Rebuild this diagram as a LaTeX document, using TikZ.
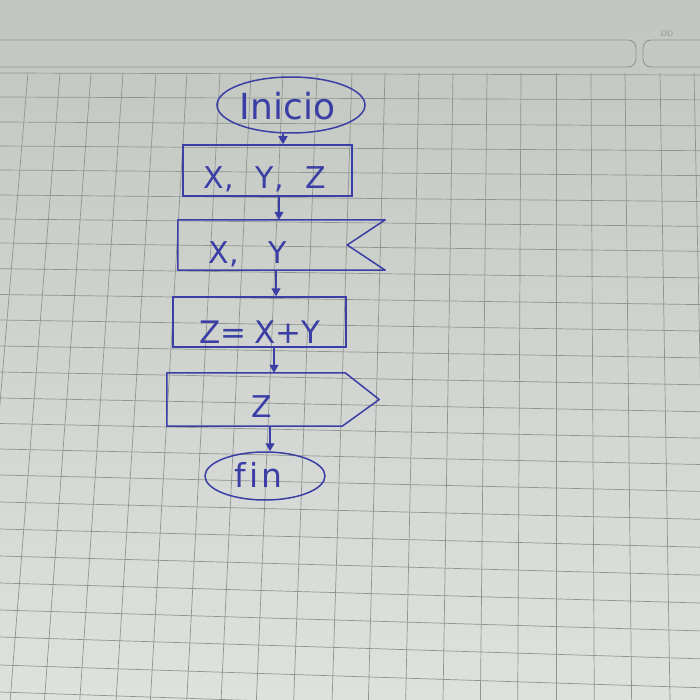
\documentclass[tikz,border=0pt]{standalone}
\usepackage{fontspec}
\usetikzlibrary{shapes.geometric,arrows.meta}
\newfontfamily\hand{DejaVu Sans}
\definecolor{ink}{RGB}{58,62,165}
\definecolor{gridc}{RGB}{145,149,145}
\definecolor{paperT}{RGB}{194,198,192}
\definecolor{paperB}{RGB}{222,225,222}
\tikzset{
  inkline/.style={draw=ink, line width=1.5pt, line join=round},
  term/.style={ellipse, draw=ink, line width=1.5pt, inner sep=0pt},
  proc/.style={rectangle, draw=ink, line width=1.5pt, inner sep=0pt},
  shapebox/.style={rectangle, inner sep=0pt},
  txt/.style={text=ink, inner sep=0pt, text height=0pt, text depth=0pt},
  arr/.style={draw=ink, line width=1.3pt, -{Triangle[width=9pt,length=8pt]}},
  gridline/.style={draw=gridc, line width=0.7pt},
  stripline/.style={draw=gridc, line width=0.9pt, rounded corners=8pt}
}
\begin{document}
\begin{tikzpicture}[x=1pt,y=-1pt]
\useasboundingbox (0,0) rectangle (700,700);
\shade[top color=paperT, bottom color=paperB] (0,0) rectangle (700,700);
% notebook header strip
\draw[stripline] (-10,40) rectangle (636,67);
\draw[stripline] (643,40) rectangle (712,67);
\node[font=\sffamily\fontsize{8}{8}\selectfont, text=gridc] (dd) at (667,34) {DD};
% grid paper
\foreach \t/\b in {28/-25.2, 60/10.2, 91/44.5, 123/79.8, 156/116.1, 187/150.4, 220/186.8, 251/221.1, 283/256.4, 317/293.7, 352/332.1, 385/368.4, 419/405.7, 453/443.0, 487/480.4, 521/517.7, 556/556, 591/594.3, 625/631.6, 660/670, 694/707}
  \draw[gridline] (\t,73) -- (\b,700);
\foreach \y [count=\j from 0] in {73, 97, 122, 146, 170, 195, 219, 243, 268.7, 294.5, 320, 346, 372, 398, 423.5, 449, 475, 502, 529, 556, 583, 610, 637, 665, 692}
  \draw[gridline] (0,\y) -- (700,{\y+2+0.9*\j});
% flowchart
\node[term, minimum width=148pt, minimum height=56pt,
  label={[txt, font=\hand\fontsize{36}{36}\selectfont, xshift=-3.5pt, yshift=-15pt]center:Inicio}] (ini) at (291,105) {};
\node[proc, minimum width=169pt, minimum height=51pt,
  label={[txt, font=\hand\fontsize{30}{30}\selectfont, xshift=-2.5pt, yshift=-18.5pt]center:X,\hspace{22pt}Y,\hspace{22pt}Z}] (b1) at (267.5,170.5) {};
\node[shapebox, minimum width=207pt, minimum height=50pt,
  label={[txt, font=\hand\fontsize{30}{30}\selectfont, xshift=-33.5pt, yshift=-18pt]center:X,\hspace{30pt}Y}] (b2) at (281.5,245) {};
\draw[inkline] (b2.north east) -- (b2.north west) -- (b2.south west) -- (b2.south east) -- ([xshift=-38pt]b2.east) -- cycle;
\node[proc, minimum width=173pt, minimum height=50pt,
  label={[txt, font=\hand\fontsize{31}{31}\selectfont, xshift=0.5pt, yshift=-21pt]center:Z=\hspace{8pt}X+Y}] (b3) at (259.5,322) {};
\node[shapebox, minimum width=212pt, minimum height=53pt,
  label={[txt, font=\hand\fontsize{30}{30}\selectfont, xshift=-11pt, yshift=-17.5pt]center:Z}] (b4) at (273,399.5) {};
\draw[inkline] (b4.north west) -- ([xshift=-34pt]b4.north east) -- (b4.east) -- ([xshift=-37pt]b4.south east) -- (b4.south west) -- cycle;
\node[term, minimum width=120pt, minimum height=48pt,
  label={[txt, font=\hand\fontsize{33}{33}\selectfont, xshift=-6.5pt, yshift=-11pt]center:f\kern4pt i\kern3pt n}] (fin) at (265,476) {};
% connectors
\draw[arr] ([xshift=-8pt]ini.south) -- ([xshift=15.5pt]b1.north);
\draw[arr] ([xshift=11.5pt]b1.south) -- ([xshift=-2.5pt]b2.north);
\draw[arr] ([xshift=-5.5pt]b2.south) -- ([xshift=16.5pt]b3.north);
\draw[arr] ([xshift=14.5pt]b3.south) -- ([xshift=1pt]b4.north);
\draw[arr] ([xshift=-3pt]b4.south) -- ([xshift=5pt]fin.north);
\end{tikzpicture}
\end{document}
